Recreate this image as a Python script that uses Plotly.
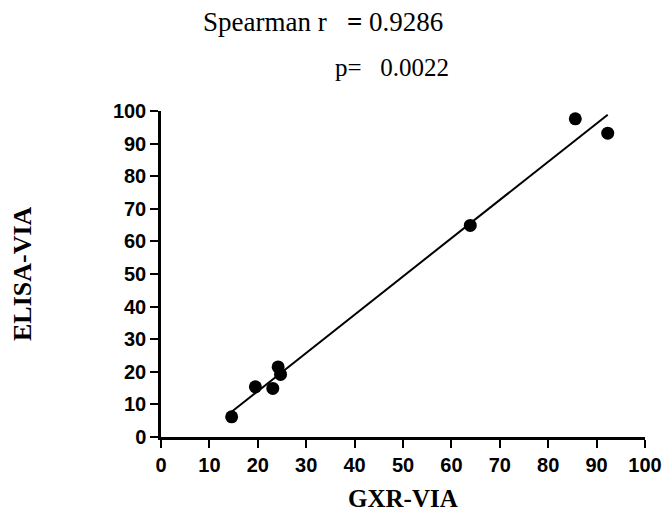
import numpy as np
import plotly.graph_objects as go

# Data
gxr_via = [14.6, 19.5, 23.1, 24.2, 24.7, 63.9, 85.6, 92.3]
elisa_via = [6.2, 15.4, 14.9, 21.5, 19.2, 64.9, 97.6, 93.2]
tick_vals = [0, 10, 20, 30, 40, 50, 60, 70, 80, 90, 100]
spearman_r = "0.9286"
p_value = "0.0022"

slope, intercept = np.polyfit(gxr_via, elisa_via, 1)
fit_x = [min(gxr_via), max(gxr_via)]
fit_y = [slope * v + intercept for v in fit_x]

fig = go.Figure()
fig.add_trace(go.Scatter(x=fit_x, y=fit_y, mode="lines",
                         line=dict(color="black", width=2), cliponaxis=False,
                         showlegend=False, hoverinfo="skip"))
fig.add_trace(go.Scatter(x=gxr_via, y=elisa_via, mode="markers",
                         marker=dict(color="black", size=13), cliponaxis=False,
                         showlegend=False))

tickfont = dict(family="Liberation Sans, Arial", size=20, color="black", weight="bold")
axis_common = dict(range=[0, 100], tickvals=tick_vals, showgrid=False, zeroline=False,
                   showline=True, linecolor="black", linewidth=2.5,
                   ticks="outside", ticklen=8, tickwidth=2, tickcolor="black",
                   tickfont=tickfont, fixedrange=True, automargin=False)
fig.update_xaxes(**axis_common)
fig.update_yaxes(**axis_common)

serif = "Liberation Serif, Times New Roman"
nb = "\u00a0"
fig.update_layout(
    autosize=False,
    width=665, height=512,
    margin=dict(l=160.5, r=20, t=110.5, b=75, autoexpand=False),
    plot_bgcolor="white", paper_bgcolor="white",
    annotations=[
        dict(text="Spearman r" + nb * 3 + "<b>=</b>" + nb + spearman_r, xref="paper", yref="paper",
             x=0.0825, y=1.273, xanchor="left", yanchor="middle", showarrow=False,
             font=dict(family=serif, size=27, color="black")),
        dict(text="p=" + nb * 3 + p_value, xref="paper", yref="paper",
             x=0.355, y=1.133, xanchor="left", yanchor="middle", showarrow=False,
             font=dict(family=serif, size=25, color="black")),
        dict(text="<b>GXR-VIA</b>", xref="paper", yref="paper",
             x=0.5, y=-0.19, xanchor="center", yanchor="middle", showarrow=False,
             font=dict(family=serif, size=25, color="black")),
        dict(text="<b>ELISA-VIA</b>", xref="paper", yref="paper", textangle=-90,
             x=-0.2859, y=0.502, xanchor="center", yanchor="middle", showarrow=False,
             font=dict(family=serif, size=26, color="black")),
    ],
)

fig.write_html("out.html",
               config={"displayModeBar": False, "responsive": False},
               post_script="document.body.style.margin='0';document.body.style.overflow='hidden';")
